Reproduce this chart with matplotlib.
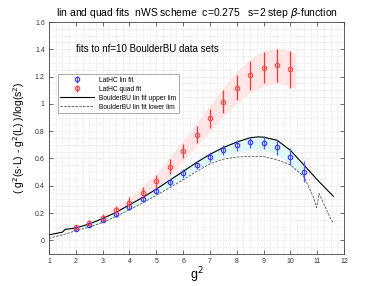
import numpy as np
import matplotlib
matplotlib.use("Agg")
import matplotlib.pyplot as plt
from matplotlib.ticker import MultipleLocator

plt.rcParams['font.family'] = ['Liberation Sans', 'DejaVu Sans']

# data
g2_blue = [2, 2.5, 3, 3.5, 4, 4.5, 5, 5.5, 6, 6.5, 7, 7.5, 8, 8.5, 9, 9.5, 10, 10.5]
blue_val = [0.082, 0.111, 0.147, 0.19, 0.244, 0.30, 0.364, 0.426, 0.49, 0.553, 0.613, 0.662,
            0.696, 0.717, 0.715, 0.681, 0.613, 0.504]
blue_err = [0.012, 0.013, 0.015, 0.017, 0.019, 0.021, 0.024, 0.027, 0.03, 0.03, 0.038, 0.04,
            0.042, 0.042, 0.048, 0.056, 0.064, 0.078]

g2_red = [2, 2.5, 3, 3.5, 4, 4.5, 5, 5.5, 6, 6.5, 7, 7.5, 8, 8.5, 9, 9.5, 10]
red_val = [0.094, 0.125, 0.162, 0.22, 0.275, 0.348, 0.432, 0.54, 0.654, 0.775, 0.896, 1.017,
           1.12, 1.21, 1.265, 1.283, 1.254]
red_err = [0.02, 0.022, 0.028, 0.035, 0.04, 0.043, 0.05, 0.055, 0.05, 0.063, 0.07, 0.085,
           0.094, 0.106, 0.112, 0.12, 0.135]

# shaded bands
band_red_x = [3.0, 3.5, 4, 4.5, 5, 5.5, 6, 6.5, 7, 7.5, 8, 8.5, 9, 9.5, 10, 10.2]
band_red_lo = [0.14, 0.19, 0.24, 0.30, 0.38, 0.47, 0.58, 0.69, 0.80, 0.91, 1.00, 1.08,
               1.13, 1.15, 1.13, 1.11]
band_red_hi = [0.19, 0.25, 0.31, 0.40, 0.49, 0.61, 0.73, 0.86, 0.99, 1.12, 1.24, 1.33,
               1.39, 1.41, 1.39, 1.37]

band_cyan_x = [2, 2.5, 3, 3.5, 4, 4.5, 5, 5.5, 6, 6.5, 7, 7.5, 8, 8.5, 9, 9.5, 10, 10.5]
band_cyan_lo = [0.072, 0.098, 0.132, 0.172, 0.222, 0.275, 0.335, 0.395, 0.455, 0.515, 0.57,
                0.615, 0.645, 0.665, 0.66, 0.625, 0.555, 0.44]
band_cyan_hi = [0.092, 0.124, 0.162, 0.21, 0.265, 0.325, 0.39, 0.457, 0.525, 0.59, 0.65,
                0.70, 0.735, 0.757, 0.758, 0.735, 0.66, 0.553]

upper_x = [1.0, 1.5, 1.6, 2, 2.5, 3, 3.5, 4, 4.5, 5, 5.5, 6, 6.5, 7, 7.5, 8, 8.5, 8.8, 9,
           9.5, 10, 10.5, 11, 11.6]
upper_y = [0.04, 0.06, 0.08, 0.09, 0.12, 0.16, 0.205, 0.26, 0.315, 0.375, 0.44, 0.505,
           0.57, 0.63, 0.68, 0.72, 0.752, 0.758, 0.756, 0.734, 0.66, 0.553, 0.444, 0.323]

lower_x = [1.0, 1.5, 2, 2.5, 3, 3.5, 4, 4.5, 5, 5.5, 6, 6.5, 7, 7.5, 8, 8.5, 9, 9.5, 10,
           10.5, 10.85, 10.98, 11.07, 11.48, 11.6]
lower_y = [0.015, 0.04, 0.07, 0.097, 0.13, 0.175, 0.225, 0.275, 0.33, 0.385, 0.444, 0.505,
           0.56, 0.595, 0.61, 0.616, 0.614, 0.59, 0.553, 0.468, 0.32, 0.24, 0.343, 0.167,
           0.125]

title = r"lin and quad fits  nWS scheme  c=0.275   s=2 step $\beta$-function"
annot = "fits to nf=10 BoulderBU data sets"

fig = plt.figure(figsize=(3.81, 2.86), dpi=100)
ax = fig.add_axes([0.1286, 0.112, 0.7744, 0.811])

ax.fill_between(band_red_x, band_red_lo, band_red_hi, color='#ffe6e6', lw=0, zorder=1)
ax.fill_between(band_cyan_x, band_cyan_lo, band_cyan_hi, color='#dff8f8', lw=0, zorder=1)

ax.plot(upper_x, upper_y, color='black', lw=0.8, zorder=3, label='BoulderBU lin fit upper lim')
ax.plot(lower_x, lower_y, color='#555555', lw=0.6, ls=(0, (3, 1.5)), zorder=3,
        label='BoulderBU lin fit lower lim')

ax.errorbar(g2_blue, blue_val, yerr=blue_err, fmt='o', ms=3.2, mfc='none', mec='#3333ff',
            mew=0.8, ecolor='#5555ff', elinewidth=0.9, capsize=0, zorder=5, label='LatHC lin fit')
ax.errorbar(g2_red, red_val, yerr=red_err, fmt='o', ms=3.2, mfc='none', mec='#ff4444',
            mew=0.8, ecolor='#ff3333', elinewidth=0.9, capsize=0, zorder=5, label='LatHC quad fit')

ax.set_xlim(1, 12)
ax.set_ylim(-0.1, 1.6)
ax.set_xticks(range(1, 13))
ax.set_yticks([0, 0.2, 0.4, 0.6, 0.8, 1.0, 1.2, 1.4, 1.6])
ax.set_yticklabels(['0', '0.2', '0.4', '0.6', '0.8', '1', '1.2', '1.4', '1.6'])
ax.xaxis.set_minor_locator(MultipleLocator(0.25))
ax.yaxis.set_minor_locator(MultipleLocator(0.05))
ax.grid(which='both', color='#d4d4d4', ls=':', lw=0.5)
ax.set_axisbelow(True)
ax.tick_params(which='major', direction='in', top=True, right=True, labelsize=5,
               length=3, width=0.5, colors='#333333', labelcolor='#333333', pad=3)
ax.tick_params(which='minor', length=0)
for s in ax.spines.values():
    s.set_linewidth(0.6)
    s.set_color('#444444')

ax.set_xlabel(r'g$^2$', fontsize=9, labelpad=0)
ax.set_ylabel(r'( g$^2$(s$\cdot$L) - g$^2$(L) )/log(s$^2$)', fontsize=7.5, labelpad=6)
ax.set_title(title, fontsize=7.5, pad=4)
ax.text(2.0, 1.4, annot, fontsize=7, va='center')

handles, labels = ax.get_legend_handles_labels()
order = [2, 3, 0, 1]
leg = ax.legend([handles[i] for i in order], [labels[i] for i in order],
                loc='upper left', bbox_to_anchor=(0.018, 0.79), fontsize=4.8,
                frameon=True, fancybox=False, edgecolor='#888888', framealpha=1,
                borderpad=0.4, handlelength=5, labelspacing=0.3, handletextpad=0.8)
leg.get_frame().set_linewidth(0.5)

fig.savefig('out.png', dpi=100)
